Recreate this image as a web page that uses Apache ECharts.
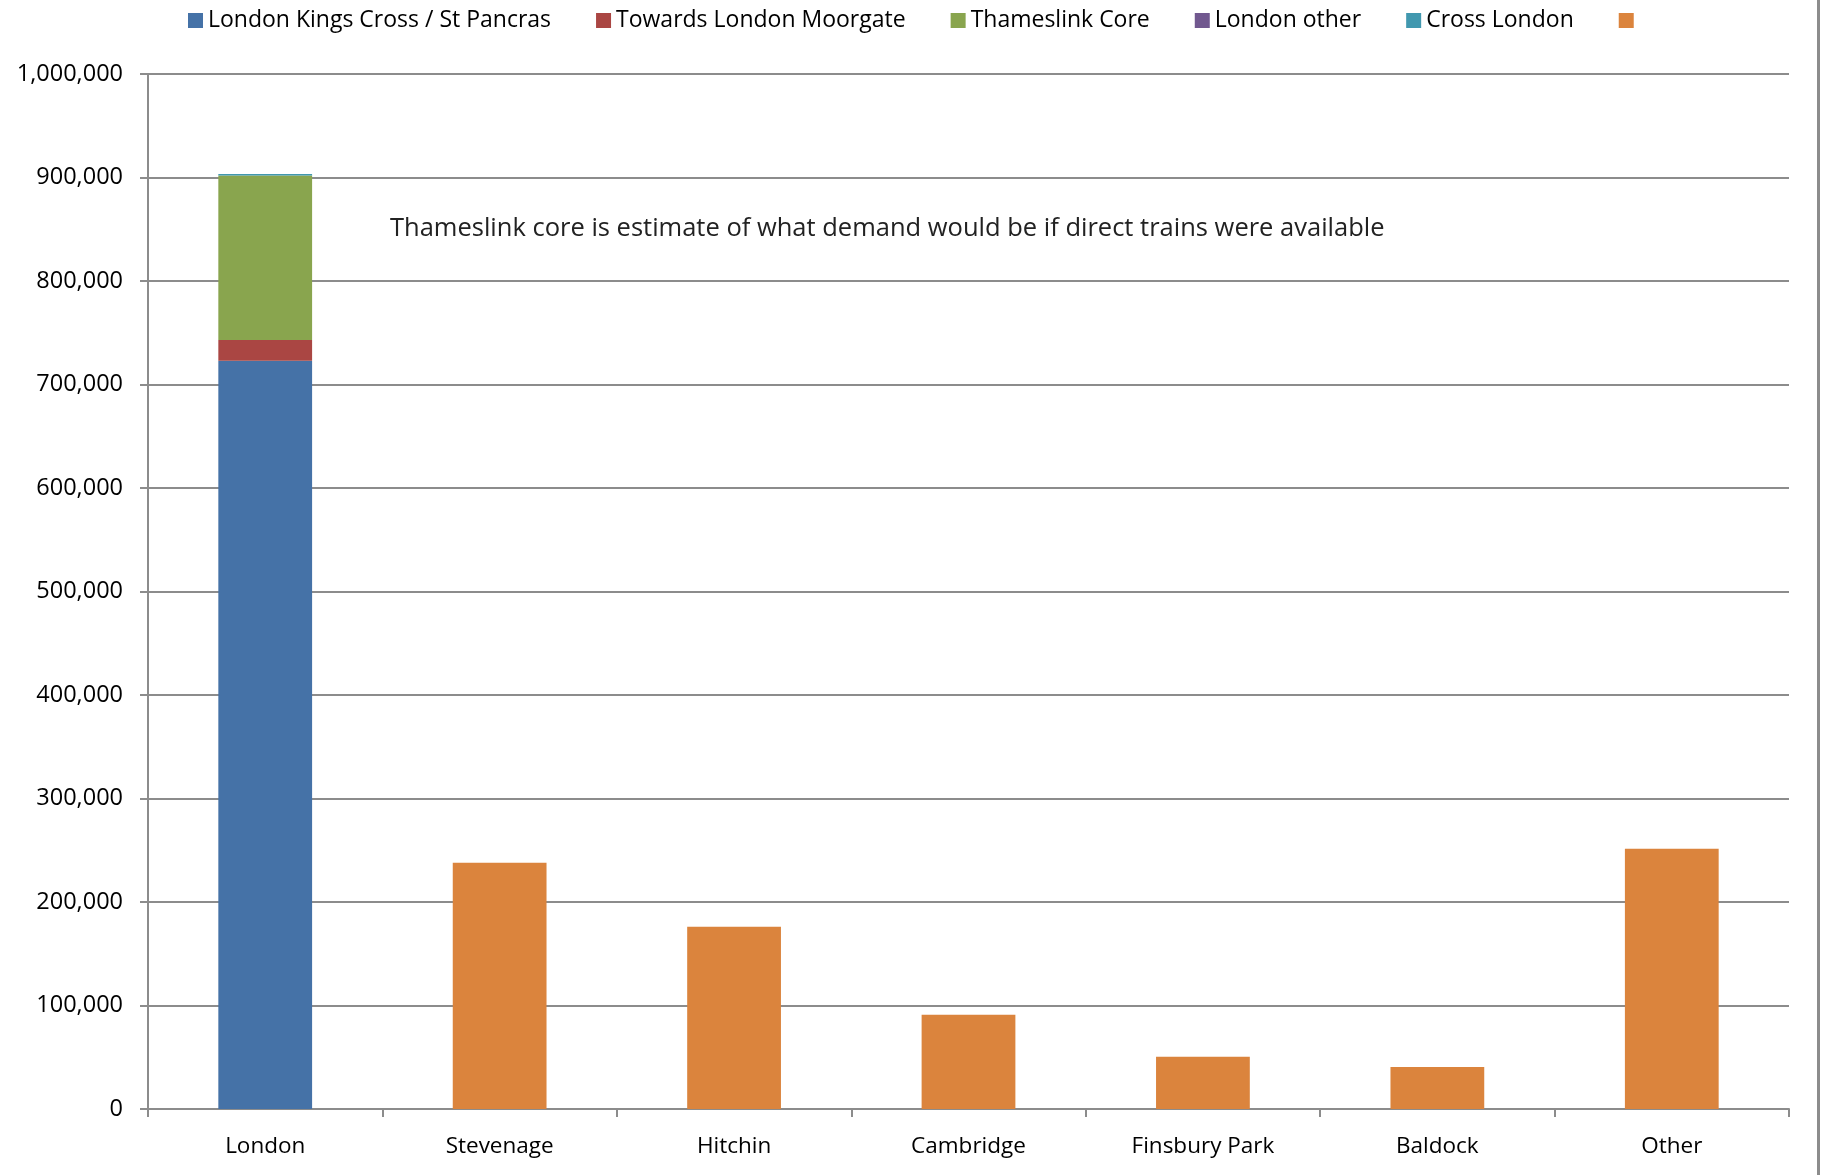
<!DOCTYPE html>
<html>
<head>
<meta charset="utf-8">
<script src="https://cdn.jsdelivr.net/npm/echarts@6/dist/echarts.min.js"></script>
<style>
  html, body { margin: 0; padding: 0; background: #fff; }
  #chart-container { width: 1826px; height: 1175px; }
</style>
</head>
<body>
<div id="chart-container"></div>
<script>
// categories along the x axis
const categories = ['London', 'Stevenage', 'Hitchin', 'Cambridge', 'Finsbury Park', 'Baldock', 'Other'];

// stacked series values
const kingsCross = [723000, 0, 0, 0, 0, 0, 0];
const moorgate = [20000, 0, 0, 0, 0, 0, 0];
const thameslinkCore = [159000, 0, 0, 0, 0, 0, 0];
const londonOther = [0, 0, 0, 0, 0, 0, 0];
const crossLondon = [1500, 0, 0, 0, 0, 0, 0];
const otherDest = [0, 238000, 176000, 91000, 50500, 40500, 251500];

const seriesNames = ['London Kings Cross / St Pancras', 'Towards London Moorgate', 'Thameslink Core', 'London other', 'Cross London', ' '];
const seriesColors = ['#4572A7', '#AA4643', '#89A54E', '#71588F', '#4198AF', '#DB843D'];
const seriesData = [kingsCross, moorgate, thameslinkCore, londonOther, crossLondon, otherDest];

const note = 'Thameslink core is estimate of what demand would be if direct trains were available';

const chartContainer = document.getElementById('chart-container');
const myChart = echarts.init(chartContainer, null, { renderer: 'canvas' });

const fontFamily = '"Open Sans", sans-serif';

let option = {
  animation: false,
  textStyle: { fontFamily: fontFamily },
  legend: {
    top: 4,
    left: 183,
    itemWidth: 15,
    itemHeight: 15,
    itemGap: 45,
    icon: 'rect',
    textStyle: { fontSize: 23, color: '#000', fontFamily: fontFamily },
    data: seriesNames
  },
  grid: {
    left: 148,
    right: 37,
    top: 74,
    bottom: 66
  },
  xAxis: {
    type: 'category',
    data: categories,
    axisLine: { lineStyle: { color: '#8c8c8c', width: 2 } },
    axisTick: { show: true, length: 8, lineStyle: { color: '#8c8c8c', width: 2 } },
    axisLabel: { fontSize: 22.5, color: '#000', margin: 26, fontFamily: fontFamily }
  },
  yAxis: {
    type: 'value',
    min: 0,
    max: 1000000,
    interval: 100000,
    axisLine: { show: true, lineStyle: { color: '#8c8c8c', width: 2 } },
    axisTick: { show: true, length: 8, lineStyle: { color: '#8c8c8c', width: 2 } },
    splitLine: { lineStyle: { color: '#8c8c8c', width: 2 } },
    axisLabel: {
      fontSize: 23.5,
      color: '#000',
      margin: 25,
      fontFamily: fontFamily,
      formatter: function (v) { return v.toLocaleString('en-GB'); }
    }
  },
  series: seriesNames.map(function (name, i) {
    return {
      name: name,
      type: 'bar',
      stack: 'total',
      barWidth: '40%',
      itemStyle: { color: seriesColors[i] },
      data: seriesData[i]
    };
  }),
  graphic: [
    {
      type: 'text',
      left: 390,
      top: 216,
      style: { text: note, fontSize: 25.5, fill: '#222', fontFamily: fontFamily }
    },
    {
      type: 'rect',
      shape: { x: 1817, y: 0, width: 3, height: 1175 },
      style: { fill: '#8c8c8c' }
    }
  ]
};

myChart.setOption(option);
window.addEventListener('resize', myChart.resize);
</script>
</body>
</html>
